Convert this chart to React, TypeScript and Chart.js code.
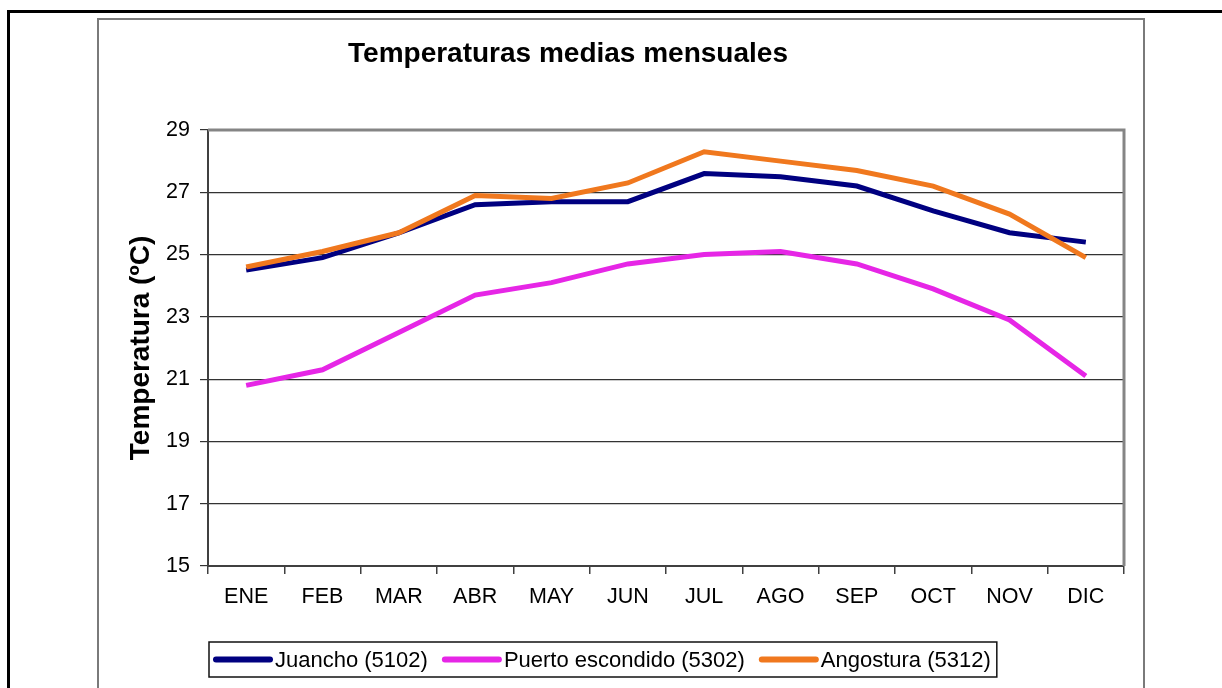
import React, { useEffect, useRef } from 'react';
import { Chart, registerables } from 'chart.js';

Chart.register(...registerables);

const months = ['ENE', 'FEB', 'MAR', 'ABR', 'MAY', 'JUN', 'JUL', 'AGO', 'SEP', 'OCT', 'NOV', 'DIC'];
const juancho = [24.5, 24.9, 25.7, 26.6, 26.7, 26.7, 27.6, 27.5, 27.2, 26.4, 25.7, 25.4];
const puertoEscondido = [20.8, 21.3, 22.5, 23.7, 24.1, 24.7, 25.0, 25.1, 24.7, 23.9, 22.9, 21.1];
const angostura = [24.6, 25.1, 25.7, 26.9, 26.8, 27.3, 28.3, 28.0, 27.7, 27.2, 26.3, 24.9];
const seriesLabels = ['Juancho (5102)', 'Puerto escondido (5302)', 'Angostura (5312)'];
const seriesColors = ['#000080', '#e626e6', '#f0781e'];
const yMin = 15;
const yMax = 29;
const yStep = 2;
const chartTitle = 'Temperaturas medias mensuales';
const yTitle = 'Temperatura (ºC)';

const FONT = '"Liberation Sans", Arial, Helvetica, sans-serif';

const framePlugin = {
  id: 'plotFrame',
  beforeDatasetsDraw(chart: any) {
    const { ctx, chartArea } = chart;
    ctx.save();
    ctx.strokeStyle = '#858585';
    ctx.lineWidth = 3;
    ctx.beginPath();
    ctx.moveTo(chartArea.left, chartArea.top);
    ctx.lineTo(chartArea.right, chartArea.top);
    ctx.lineTo(chartArea.right, chartArea.bottom);
    ctx.stroke();
    ctx.restore();
  },
};

const titlePlugin = {
  id: 'customTitle',
  afterDraw(chart: any) {
    const { ctx } = chart;
    ctx.save();
    ctx.font = `bold 28px ${FONT}`;
    ctx.fillStyle = '#000';
    ctx.textAlign = 'center';
    ctx.textBaseline = 'alphabetic';
    ctx.fillText(chartTitle, 469, 42);
    ctx.restore();
  },
};

const legendPlugin = {
  id: 'boxLegend',
  afterDraw(chart: any) {
    const { ctx, chartArea } = chart;
    const datasets = chart.data.datasets;
    ctx.save();
    ctx.font = `22px ${FONT}`;
    const boxLeft = chartArea.left + 1;
    const boxTop = 622;
    const boxH = 35;
    const cy = boxTop + boxH / 2;
    let x = boxLeft + 4;
    ctx.textBaseline = 'middle';
    ctx.textAlign = 'left';
    datasets.forEach((ds: any, i: number) => {
      ctx.strokeStyle = ds.borderColor;
      ctx.lineWidth = 6;
      ctx.lineCap = 'round';
      ctx.beginPath();
      ctx.moveTo(x + 3, cy);
      ctx.lineTo(x + 57, cy);
      ctx.stroke();
      x += 62;
      ctx.fillStyle = '#000';
      ctx.fillText(ds.label, x, cy + 1);
      x += ctx.measureText(ds.label).width;
      if (i < datasets.length - 1) x += 14;
    });
    const boxRight = x + 6;
    ctx.strokeStyle = '#111';
    ctx.lineWidth = 1.5;
    ctx.strokeRect(boxLeft, boxTop, boxRight - boxLeft, boxH);
    ctx.restore();
  },
};

export default function App() {
  const canvasRef = useRef<HTMLCanvasElement | null>(null);

  useEffect(() => {
    if (!canvasRef.current) return;
    const seriesData = [juancho, puertoEscondido, angostura];
    const chart = new Chart(canvasRef.current, {
      type: 'line',
      data: {
        labels: months,
        datasets: seriesData.map((d, i) => ({
          label: seriesLabels[i],
          data: d,
          borderColor: seriesColors[i],
          backgroundColor: seriesColors[i],
          borderWidth: 5,
          pointRadius: 0,
          pointHoverRadius: 0,
          tension: 0,
          fill: false,
          order: 3 - i,
        })),
      },
      options: {
        responsive: false,
        animation: false,
        devicePixelRatio: 1,
        layout: { padding: { top: 110, right: 19, left: 0, bottom: 0 } },
        plugins: {
          legend: { display: false },
          title: { display: false },
          tooltip: { enabled: false },
        },
        scales: {
          x: {
            type: 'category',
            offset: true,
            grid: {
              offset: true,
              drawOnChartArea: false,
              drawTicks: true,
              tickLength: 8,
              color: '#404040',
              lineWidth: 1.5,
            },
            border: { display: true, color: '#404040', width: 2 },
            ticks: {
              color: '#000',
              font: { family: FONT, size: 21.5 },
              padding: 10,
              maxRotation: 0,
              autoSkip: false,
            },
            afterFit(scale: any) {
              scale.height = 122;
            },
          },
          y: {
            min: yMin,
            max: yMax,
            ticks: {
              stepSize: yStep,
              color: '#000',
              font: { family: FONT, size: 21.5 },
              padding: 10,
            },
            grid: {
              color: '#333333',
              lineWidth: 1.2,
              tickLength: 8,
              drawTicks: true,
            },
            border: { display: true, color: '#404040', width: 2 },
            title: {
              display: true,
              text: yTitle,
              color: '#000',
              font: { family: FONT, size: 28, weight: 'bold' },
              padding: { top: 25, bottom: 0 },
            },
            afterFit(scale: any) {
              scale.width = 109;
            },
          },
        },
      },
      plugins: [framePlugin, titlePlugin, legendPlugin],
    } as any);
    return () => chart.destroy();
  }, []);

  return (
    <div style={{ position: 'absolute', left: 0, top: 0, width: 1222, height: 688, overflow: 'hidden', background: '#fff' }}>
      <div style={{ position: 'absolute', left: 7, top: 10, right: 0, height: 3, background: '#000' }} />
      <div style={{ position: 'absolute', left: 7, top: 10, width: 3, bottom: 0, background: '#000' }} />
      <div
        style={{
          position: 'absolute',
          left: 97,
          top: 18,
          width: 1044,
          height: 700,
          borderLeft: '2px solid #7a7a7a',
          borderTop: '2px solid #7a7a7a',
          borderRight: '2px solid #7a7a7a',
        }}
      />
      <canvas ref={canvasRef} width={1044} height={668} style={{ position: 'absolute', left: 99, top: 20, display: 'block' }} />
    </div>
  );
}
